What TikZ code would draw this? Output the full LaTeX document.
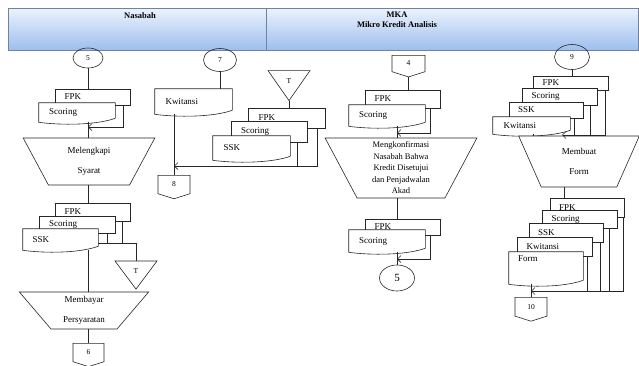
\documentclass[tikz,border=0pt]{standalone}
\usepackage{fontspec}
\setmainfont{Liberation Serif}
\usetikzlibrary{shapes.geometric,shapes.symbols,arrows.meta,math}

\definecolor{lanetop}{RGB}{236,243,253}
\definecolor{lanebottom}{RGB}{158,190,238}
\definecolor{laneline}{RGB}{112,130,158}

\newcommand{\flowfont}{\fontsize{9}{10.5}\selectfont}

\tikzset{
    flow/.style={line width=0.6pt, black!85},
    arrowin/.style={flow, -{Straight Barb[length=3.5pt,width=7pt]}},
    lane/.style={draw=laneline, line width=0.8pt, top color=lanetop, bottom color=lanebottom, inner sep=0pt},
    title/.style={font=\bfseries\fontsize{8.5}{10}\selectfont, align=center, inner sep=2pt},
    doc/.style 2 args={rectangle, draw=black!85, line width=0.6pt, fill=white, inner xsep=8pt, inner ysep=0pt,
        text width=56pt, align=left, font=\flowfont, minimum width=#1pt, minimum height=#2pt},
    wavedoc/.style 2 args={doc={#1}{#2}, draw=none},
    manual/.style={trapezium, trapezium stretches=true, shape border rotate=180, draw=black!85, line width=0.6pt,
        fill=white, inner sep=0pt, align=center, font=\flowfont},
    conn/.style={ellipse, draw=black!85, line width=0.6pt, inner sep=0pt, font=\fontsize{7.5}{8}\selectfont},
    offpage/.style={signal, signal to=south, signal pointer angle=145, draw=black!85, line width=0.6pt,
        inner sep=0pt, font=\fontsize{7.5}{8}\selectfont, anchor=north},
    store/.style={isosceles triangle, shape border rotate=-90, isosceles triangle stretches, draw=black!85,
        line width=0.6pt, inner sep=0pt, font=\fontsize{7.5}{8}\selectfont},
}

% document outline with wavy bottom
\newcommand{\docwave}[1]{%
    \draw[flow] ([yshift=4pt]#1.south east) -- (#1.north east) -- (#1.north west) -- (#1.south west)
        .. controls +(22pt,-3pt) and +(-20pt,-7pt) .. ([yshift=4pt]#1.south east);}

\begin{document}
\begin{tikzpicture}[x=1pt, y=-1pt]

% Position settings
\tikzmath{
    \LineGap = 10;
}

\useasboundingbox (0,0) rectangle (639,365);

% Draws lanes
\node[lane, minimum width=258pt, minimum height=42pt] (nasabah) at (137,29) {};
\node[lane, minimum width=372pt, minimum height=42pt] (mka) at (452,29) {};
\node[title, anchor=north] (nasabahT) at (140,10) {Nasabah};
\node[title, anchor=north] (mkaT) at (397,10) {MKA\\Mikro Kredit Analisis};

% Nasabah, first column
\node[conn, minimum width=30pt, minimum height=20pt] (c5a) at (88,58) {5};
\node[doc={75}{16}] (fpkA) at (92.5,97) {FPK};
\node[wavedoc={76}{19}] (scorA) at (77,112.5) {Scoring};
\docwave{scorA}
\coordinate (m1) at (88,127);
\node[manual, trapezium left angle=65, trapezium right angle=65, minimum width=132pt, minimum height=47pt]
    (lengkap) at (89,161.5) {Melengkapi\\[\LineGap pt]Syarat};

\draw[flow] (c5a.south) -- (c5a.south |- fpkA.north);
\draw[arrowin] ([xshift=-7pt]fpkA.south east) |- (m1);
\draw[flow] (m1 |- scorA.south) -- (m1 |- lengkap.north);

\node[doc={75}{18}] (fpkB) at (92.5,212) {FPK};
\node[doc={76}{17}] (scorB) at (77,224.5) {Scoring};
\node[wavedoc={75}{21}] (sskB) at (60.5,239.5) {SSK};
\docwave{sskB}
\coordinate (m2) at (136,243);
\node[store, minimum width=42pt, minimum height=28pt] (t1) at (136,271) {T};
\node[manual, trapezium left angle=55, trapezium right angle=55, minimum width=130pt, minimum height=37pt]
    (bayar) at (84,310.5) {Membayar\\[\LineGap pt]Persyaratan};
\node[offpage, minimum width=31pt, minimum height=19pt] (c6) at (88.5,343) {6};

\draw[flow] (m1 |- lengkap.south) -- (m1 |- fpkB.north);
\draw[flow] ([xshift=-8pt]fpkB.south east) -- ([xshift=-8pt]fpkB.south east |- m2);
\draw[flow] ([xshift=-8pt]scorB.south east) -- ([xshift=-8pt]scorB.south east |- m2);
\draw[flow] (sskB.east |- m2) -- (m2) -- (t1.north);
\draw[flow] (m1 |- sskB.south) -- (m1 |- bayar.north);
\draw[flow] (c6.north |- bayar.south) -- (c6.north);

% Nasabah, second column
\node[conn, minimum width=33pt, minimum height=23pt] (c7) at (220,60) {7};
\node[wavedoc={77}{25}] (kwiA) at (193.5,101.5) {Kwitansi};
\docwave{kwiA}
\node[store, minimum width=42pt, minimum height=30pt] (t2) at (289,81) {T};
\node[doc={77}{20}] (fpkC) at (286.5,118) {FPK};
\node[doc={76}{21}] (scorC) at (269,131.5) {Scoring};
\node[wavedoc={77}{24}] (sskC) at (251.5,148) {SSK};
\docwave{sskC}
\coordinate (m3) at (174,166);
\node[offpage, minimum width=32pt, minimum height=19pt] (c8) at (174,175) {8};

\draw[flow] (c7.south) -- (c7.south |- kwiA.north);
\draw[flow] (c8 |- kwiA.south) -- (c8.north);
\draw[flow] (t2.south) -- (t2.south |- fpkC.north);
\draw[arrowin] ([xshift=-8pt]fpkC.south east) |- (m3);
\draw[flow] ([xshift=-10pt]scorC.south east) -- ([xshift=-10pt]scorC.south east |- m3);

% MKA, first column
\node[offpage, minimum width=33pt, minimum height=17pt] (c4) at (408.5,55) {4};
\node[doc={75}{18}] (fpkD) at (402.5,99) {FPK};
\node[wavedoc={76}{21}] (scorD) at (387,115.5) {Scoring};
\docwave{scorD}
\coordinate (m4) at (397,133);
\node[manual, trapezium left angle=68, trapezium right angle=68, minimum width=152pt, minimum height=60pt,
    font=\fontsize{8.5}{11.5}\selectfont] (konf) at (401,168)
    {Mengkonfirmasi\\Nasabah Bahwa\\Kredit Disetujui\\dan Penjadwalan\\Akad};
\node[doc={75}{16}] (fpkE) at (402.5,227) {FPK};
\node[wavedoc={76}{22}] (scorE) at (387,241) {Scoring};
\docwave{scorE}
\coordinate (m5) at (397,259);
\node[conn, minimum width=35pt, minimum height=26pt, font=\fontsize{11}{12}\selectfont] (c5b) at (397,278) {5};

\draw[flow] (c4.south) -- (c4.south |- fpkD.north);
\draw[arrowin] ([xshift=-10pt]fpkD.south east) |- (m4);
\draw[flow] (m4 |- scorD.south) -- (m4 |- konf.north);
\draw[flow] (m4 |- konf.south) -- (m4 |- fpkE.north);
\draw[arrowin] ([xshift=-10pt]fpkE.south east) |- (m5);
\draw[flow] (m5 |- scorE.south) -- (c5b.north);

% MKA, second column
\node[conn, minimum width=35pt, minimum height=25pt] (c9) at (572,57) {9};
\node[doc={75}{14}] (fpkF) at (570.5,83) {FPK};
\node[doc={75}{17}] (scorF) at (559.5,96.5) {Scoring};
\node[doc={74}{16}] (sskF) at (546,110) {SSK};
\node[wavedoc={77}{17}] (kwiF) at (531.5,125.5) {Kwitansi};
\docwave{kwiF}
\coordinate (m6) at (562,135);
\node[manual, trapezium left angle=69, trapezium right angle=69, minimum width=121pt, minimum height=51pt]
    (buat) at (579,161.5) {Membuat\\[\LineGap pt]Form};

\draw[flow] (c9.south) -- (c9.south |- fpkF.north);
\draw[arrowin] ([xshift=-3pt]fpkF.south east) |- (m6);
\draw[flow] ([xshift=-7pt]scorF.south east) -- ([xshift=-7pt]scorF.south east |- m6);
\draw[flow] ([xshift=-9pt]sskF.south east) -- ([xshift=-9pt]sskF.south east |- m6);
\draw[flow] ([xshift=1.5pt]kwiF.south) -- ([xshift=1.5pt]kwiF.south |- buat.north);

\node[doc={74}{19}] (fpkG) at (587,207.5) {FPK};
\node[doc={75}{18}] (scorG) at (579.5,219) {Scoring};
\node[doc={74}{19}] (sskG) at (566,232.5) {SSK};
\node[doc={75}{19}] (kwiG) at (554.5,246.5) {Kwitansi};
\node[wavedoc={74}{32}, text height=7pt, text depth=20pt] (formG) at (546,268) {Form};
\docwave{formG}
\coordinate (m7) at (531,291);
\node[offpage, minimum width=32pt, minimum height=20pt] (c10) at (531,297) {10};

\draw[flow] ([xshift=-15pt]buat.south) -- ([xshift=-15pt]buat.south |- fpkG.north);
\draw[arrowin] ([xshift=-1pt]fpkG.south east) |- (m7);
\draw[flow] ([xshift=-8pt]scorG.south east) -- ([xshift=-8pt]scorG.south east |- m7);
\draw[flow] ([xshift=-3pt]sskG.south east) -- ([xshift=-3pt]sskG.south east |- m7);
\draw[flow] ([xshift=-5pt]kwiG.south east) -- ([xshift=-5pt]kwiG.south east |- m7);
\draw[flow] (c10 |- formG.south) -- (c10.north);

\end{tikzpicture}
\end{document}
